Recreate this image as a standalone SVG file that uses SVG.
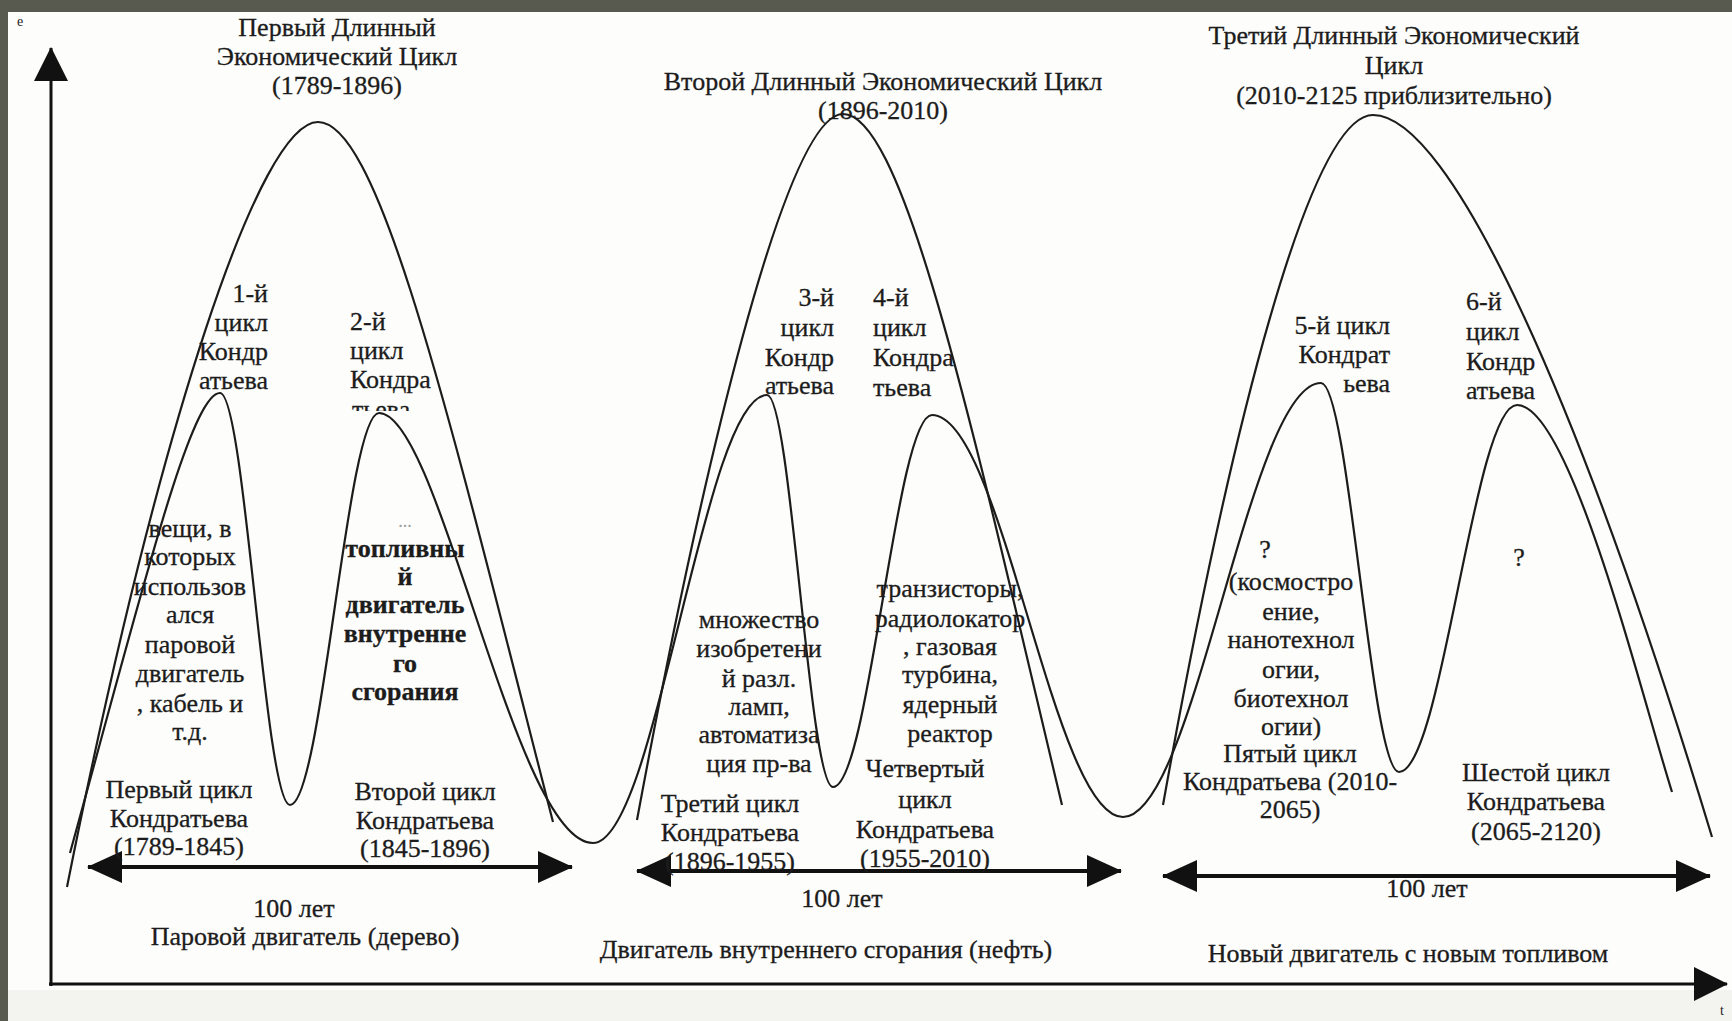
<svg xmlns="http://www.w3.org/2000/svg" width="1732" height="1021" viewBox="0 0 1732 1021">
<style>
.t{font-family:"Liberation Serif","Times New Roman",serif;font-size:26px;fill:#1c1c1c;stroke:#1c1c1c;stroke-width:0.3;text-anchor:middle}
.e{text-anchor:end}
.s{text-anchor:start}
.b{font-weight:bold}
.g{fill:#9a9a9a;stroke:none}
.c{fill:none;stroke:#1c1c1c;stroke-width:2.2}
.ax{fill:none;stroke:#111;stroke-width:3}
.ar{fill:none;stroke:#111;stroke-width:4}
</style>
<defs>
<marker id="ah" markerUnits="userSpaceOnUse" markerWidth="35" markerHeight="32" viewBox="0 0 35 32" refX="34" refY="16" orient="auto-start-reverse">
<path d="M0,0 L35,16 L0,32 Z" fill="#111"/>
</marker>
<marker id="axh" markerUnits="userSpaceOnUse" markerWidth="34" markerHeight="34" viewBox="0 0 34 34" refX="33" refY="17" orient="auto">
<path d="M0,0 L34,17 L0,34 Z" fill="#111"/>
</marker>
<clipPath id="clipT"><rect x="340" y="398" width="110" height="13"/></clipPath>
</defs>
<rect x="0" y="0" width="1732" height="1021" fill="#fdfdfb"/>
<rect x="0" y="990" width="1732" height="31" fill="#f3f3ef"/>
<rect x="0" y="0" width="1732" height="12" fill="#595a4f"/>
<rect x="0" y="0" width="8" height="1021" fill="#595a4f"/>

<g id="axes">
<text class="t" x="20" y="26" style="font-size:14px;stroke:none">e</text>
<line class="ax" x1="51" y1="986" x2="51" y2="48" marker-end="url(#axh)"/>
<line class="ax" x1="49" y1="984" x2="1727" y2="984" marker-end="url(#axh)"/>
<text class="t" x="1722" y="1015" style="font-size:14px;stroke:none">t</text>
</g>

<g id="connectors">
<path id="long1" class="c" d="M67,887 C160,420 260,122 318,122 C380,122 450,420 553,822"/>
<path id="long2" class="c" d="M637,820 C700,480 785,114 843,114 C905,114 975,440 1062,805"/>
<path id="long3" class="c" d="M1163,805 C1230,430 1310,115 1373,115 C1450,115 1580,400 1712,837"/>
<path id="kwave" class="c" d="M70,853 C140,600 190,393 220,393 C245,393 265,805 290,805 C322,805 347,413 379,413 C440,413 515,843 593,843 C656,843 704,395 767,395 C791,395 809,787 833,787 C869,787 896,415 932,415 C1002,415 1053,817 1123,817 C1195,817 1249,383 1321,383 C1349,383 1371,772 1399,772 C1442,772 1474,405 1517,405 C1570,405 1640,690 1672,792"/>
<line class="ar" x1="88" y1="867" x2="572" y2="867" marker-start="url(#ah)" marker-end="url(#ah)"/>
<line class="ar" x1="637" y1="871" x2="1121" y2="871" marker-start="url(#ah)" marker-end="url(#ah)"/>
<line class="ar" x1="1163" y1="876" x2="1710" y2="876" marker-start="url(#ah)" marker-end="url(#ah)"/>
</g>

<g id="title1">
<text class="t" x="337" y="36">Первый Длинный</text>
<text class="t" x="337" y="65">Экономический Цикл</text>
<text class="t" x="337" y="94">(1789-1896)</text>
</g>
<g id="title2">
<text class="t" x="883" y="90">Второй Длинный Экономический Цикл</text>
<text class="t" x="883" y="119">(1896-2010)</text>
</g>
<g id="title3">
<text class="t" x="1394" y="44">Третий Длинный Экономический</text>
<text class="t" x="1394" y="74">Цикл</text>
<text class="t" x="1394" y="104">(2010-2125 приблизительно)</text>
</g>

<g id="k1">
<text class="t e" x="268" y="302">1-й</text>
<text class="t e" x="268" y="331">цикл</text>
<text class="t e" x="268" y="360">Кондр</text>
<text class="t e" x="268" y="389">атьева</text>
</g>
<g id="k2">
<text class="t s" x="350" y="330">2-й</text>
<text class="t s" x="350" y="359">цикл</text>
<text class="t s" x="350" y="388">Кондра</text>
<text class="t s" x="352" y="418" clip-path="url(#clipT)">тьева</text>
</g>
<g id="k3">
<text class="t e" x="834" y="306">3-й</text>
<text class="t e" x="834" y="336">цикл</text>
<text class="t e" x="834" y="366">Кондр</text>
<text class="t e" x="834" y="394">атьева</text>
</g>
<g id="k4">
<text class="t s" x="873" y="306">4-й</text>
<text class="t s" x="873" y="336">цикл</text>
<text class="t s" x="873" y="366">Кондра</text>
<text class="t s" x="873" y="396">тьева</text>
</g>
<g id="k5">
<text class="t e" x="1390" y="334">5-й цикл</text>
<text class="t e" x="1390" y="363">Кондрат</text>
<text class="t e" x="1390" y="392">ьева</text>
</g>
<g id="k6">
<text class="t s" x="1466" y="310">6-й</text>
<text class="t s" x="1466" y="340">цикл</text>
<text class="t s" x="1466" y="370">Кондр</text>
<text class="t s" x="1466" y="399">атьева</text>
</g>

<g id="c1">
<text class="t" x="190" y="537">вещи, в</text>
<text class="t" x="190" y="565">которых</text>
<text class="t" x="190" y="595">использов</text>
<text class="t" x="190" y="623">ался</text>
<text class="t" x="190" y="653">паровой</text>
<text class="t" x="190" y="682">двигатель</text>
<text class="t" x="190" y="712">, кабель и</text>
<text class="t" x="190" y="740">т.д.</text>
</g>
<g id="c2">
<text class="t g" x="405" y="527" style="font-size:18px">...</text>
<text class="t b" x="405" y="557">топливны</text>
<text class="t b" x="405" y="585">й</text>
<text class="t b" x="405" y="613">двигатель</text>
<text class="t b" x="405" y="642">внутренне</text>
<text class="t b" x="405" y="672">го</text>
<text class="t b" x="405" y="700">сгорания</text>
</g>
<g id="c3">
<text class="t" x="759" y="628">множество</text>
<text class="t" x="759" y="657">изобретени</text>
<text class="t" x="759" y="687">й разл.</text>
<text class="t" x="759" y="715">ламп,</text>
<text class="t" x="759" y="743">автоматиза</text>
<text class="t" x="759" y="772">ция пр-ва</text>
</g>
<g id="c4">
<text class="t" x="950" y="597">транзисторы,</text>
<text class="t" x="950" y="627">радиолокатор</text>
<text class="t" x="950" y="655">, газовая</text>
<text class="t" x="950" y="683">турбина,</text>
<text class="t" x="950" y="713">ядерный</text>
<text class="t" x="950" y="742">реактор</text>
</g>
<g id="c5">
<text class="t" x="1265" y="558">?</text>
<text class="t" x="1291" y="590">(космостро</text>
<text class="t" x="1291" y="620">ение,</text>
<text class="t" x="1291" y="648">нанотехнол</text>
<text class="t" x="1291" y="678">огии,</text>
<text class="t" x="1291" y="707">биотехнол</text>
<text class="t" x="1291" y="735">огии)</text>
</g>
<g id="c6">
<text class="t" x="1519" y="566">?</text>
</g>

<g id="b1">
<text class="t" x="179" y="798">Первый цикл</text>
<text class="t" x="179" y="827">Кондратьева</text>
<text class="t" x="179" y="855">(1789-1845)</text>
</g>
<g id="b2">
<text class="t" x="425" y="800">Второй цикл</text>
<text class="t" x="425" y="829">Кондратьева</text>
<text class="t" x="425" y="857">(1845-1896)</text>
</g>
<g id="b3">
<text class="t" x="730" y="812">Третий цикл</text>
<text class="t" x="730" y="841">Кондратьева</text>
<text class="t" x="730" y="870">(1896-1955)</text>
</g>
<g id="b4">
<text class="t" x="925" y="777">Четвертый</text>
<text class="t" x="925" y="808">цикл</text>
<text class="t" x="925" y="838">Кондратьева</text>
<text class="t" x="925" y="867">(1955-2010)</text>
</g>
<g id="b5">
<text class="t" x="1290" y="762">Пятый цикл</text>
<text class="t" x="1290" y="790">Кондратьева (2010-</text>
<text class="t" x="1290" y="818">2065)</text>
</g>
<g id="b6">
<text class="t" x="1536" y="781">Шестой цикл</text>
<text class="t" x="1536" y="810">Кондратьева</text>
<text class="t" x="1536" y="840">(2065-2120)</text>
</g>

<g id="span1">
<text class="t" x="294" y="917">100 лет</text>
<text class="t" x="305" y="945">Паровой двигатель (дерево)</text>
</g>
<g id="span2">
<text class="t" x="842" y="907">100 лет</text>
<text class="t" x="826" y="958">Двигатель внутреннего сгорания (нефть)</text>
</g>
<g id="span3">
<text class="t" x="1427" y="897">100 лет</text>
<text class="t" x="1408" y="962">Новый двигатель с новым топливом</text>
</g>
</svg>
